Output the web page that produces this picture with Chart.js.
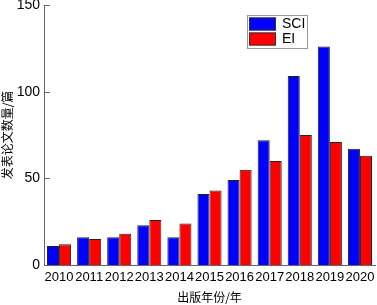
<!DOCTYPE html>
<html>
<head>
<meta charset="utf-8">
<script src="https://cdn.jsdelivr.net/npm/chart.js@4/dist/chart.umd.min.js"></script>
<style>
  html, body { margin: 0; padding: 0; background: #fff; }
  #wrap { width: 377px; height: 305px; }
</style>
</head>
<body>
<div id="wrap"><canvas id="c" width="377" height="305"></canvas></div>
<script>
const years = ['2010', '2011', '2012', '2013', '2014', '2015', '2016', '2017', '2018', '2019', '2020'];
const sci = [11, 16, 16, 23, 16, 41, 49, 72, 109, 126, 67];
const ei = [12, 15, 18, 26, 24, 43, 55, 60, 75, 71, 63];
const seriesNames = ['SCI', 'EI'];
const yTicks = [0, 50, 100, 150];

const numFont = "'Liberation Sans', Arial, sans-serif";
const cjkFont = "'Noto Sans CJK SC', sans-serif";

// small inward tick marks on the y axis
const yTickMarks = {
    id: 'yTickMarks',
    afterDraw(chart) {
        const y = chart.scales.y;
        const ctx = chart.ctx;
        ctx.save();
        ctx.strokeStyle = '#666';
        ctx.lineWidth = 1;
        yTicks.forEach(v => {
            const py = Math.round(y.getPixelForValue(v)) + 0.5;
            ctx.beginPath();
            ctx.moveTo(y.right, py);
            ctx.lineTo(y.right + 6, py);
            ctx.stroke();
        });
        ctx.restore();
    }
};

// boxed legend inside the plot, top right
const boxLegend = {
    id: 'boxLegend',
    afterDraw(chart) {
        const ctx = chart.ctx;
        const x0 = 247, y0 = 15, w = 60, h = 33;
        ctx.save();
        ctx.fillStyle = '#fff';
        ctx.fillRect(x0, y0, w, h);
        ctx.strokeStyle = '#999';
        ctx.lineWidth = 1;
        ctx.strokeRect(x0 + 0.5, y0 + 0.5, w, h);
        chart.data.datasets.forEach((ds, i) => {
            const ry = y0 + 2.5 + i * 15;
            ctx.fillStyle = ds.backgroundColor;
            ctx.fillRect(x0 + 2, ry, 27, 13);
            ctx.strokeStyle = '#333';
            ctx.strokeRect(x0 + 2.5, ry + 0.5, 26, 12);
            ctx.fillStyle = '#000';
            ctx.font = '14px ' + numFont;
            ctx.textBaseline = 'middle';
            ctx.fillText(ds.label, x0 + 35, ry + 7);
        });
        ctx.restore();
    }
};

new Chart(document.getElementById('c'), {
    type: 'bar',
    data: {
        labels: years,
        datasets: [
            { label: seriesNames[0], data: sci, backgroundColor: '#0000ff', borderColor: '#222', borderWidth: 1 },
            { label: seriesNames[1], data: ei, backgroundColor: '#ff0000', borderColor: '#222', borderWidth: 1 }
        ]
    },
    options: {
        responsive: false,
        animation: false,
        layout: { padding: { top: 5, right: 2, left: 0, bottom: 0 } },
        datasets: { bar: { categoryPercentage: 0.8, barPercentage: 1.0 } },
        plugins: {
            legend: { display: false },
            tooltip: { enabled: false }
        },
        scales: {
            x: {
                grid: { display: false, drawTicks: false },
                border: { display: true, color: '#666', width: 1 },
                ticks: { color: '#000', padding: 5, maxRotation: 0, autoSkip: false, font: { family: numFont, size: 13 } },
                title: { display: true, text: '出版年份/年', color: '#000', padding: { top: 3, bottom: 0 }, font: { family: cjkFont, size: 12 } },
                afterFit(s) { s.height = 40; s.paddingLeft = 0; s.paddingRight = 0; }
            },
            y: {
                min: 0,
                max: 150,
                grid: { display: false, drawTicks: false },
                border: { display: true, color: '#666', width: 1 },
                afterBuildTicks(s) { s.ticks = yTicks.map(v => ({ value: v })); },
                ticks: { color: '#000', padding: 4, font: { family: numFont, size: 14 } },
                title: { display: true, text: '发表论文数量/篇', color: '#000', padding: { top: 0, bottom: 2 }, font: { family: cjkFont, size: 12 } },
                afterFit(s) { s.width = 44; s.paddingTop = 0; s.paddingBottom = 0; }
            }
        }
    },
    plugins: [yTickMarks, boxLegend]
});
</script>
</body>
</html>
